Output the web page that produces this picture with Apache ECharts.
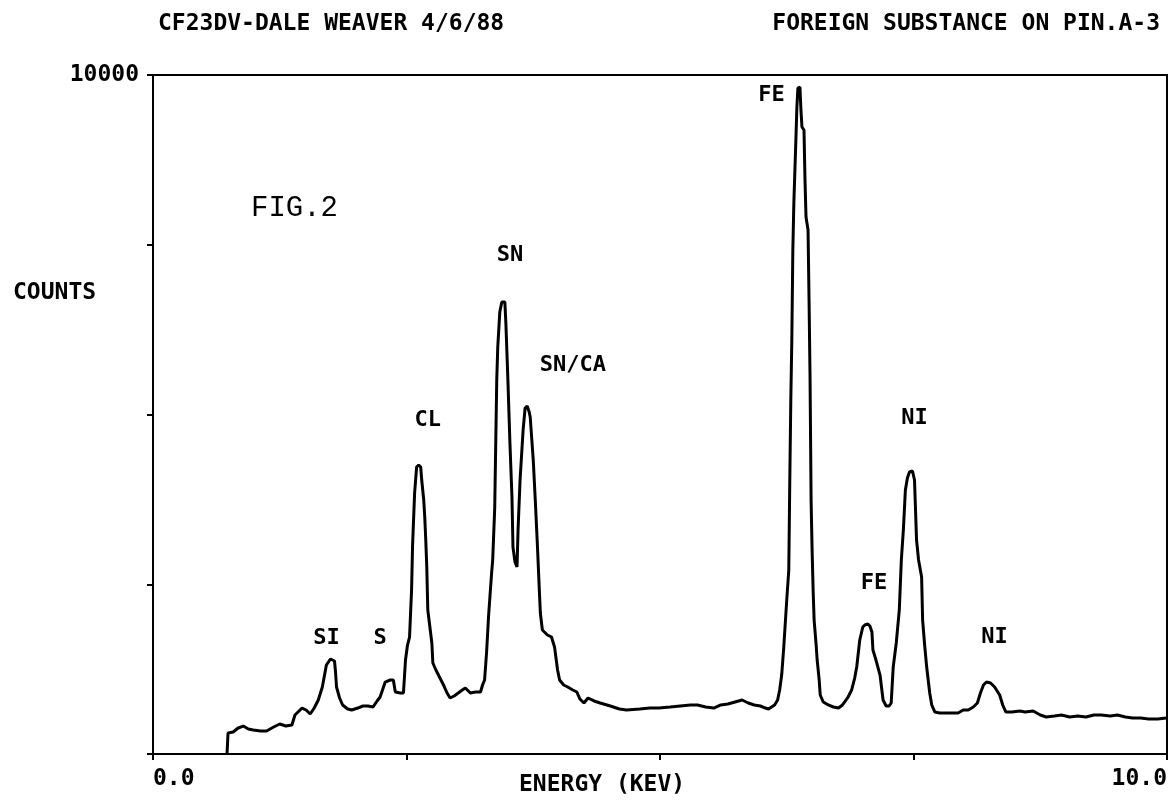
<!DOCTYPE html>
<html>
<head>
<meta charset="utf-8">
<title>EDS spectrum</title>
<script src="https://cdn.jsdelivr.net/npm/echarts@6/dist/echarts.min.js"></script>
<style>
  html, body { margin: 0; padding: 0; background: #fff; }
  #chart { width: 1171px; height: 801px; }
</style>
</head>
<body>
<div id="chart"></div>
<script>
// energy (keV) and counts
const energy = [
  0.73, 0.74, 0.79, 0.84, 0.89, 0.94, 0.99, 1.06, 1.12, 1.19, 1.25, 1.31, 1.37, 1.40, 1.47, 1.51, 1.55, 1.59, 1.63, 1.67,
  1.71, 1.75, 1.79, 1.80, 1.81, 1.84, 1.87, 1.92, 1.96, 2.02, 2.07, 2.12, 2.17, 2.21, 2.24, 2.29, 2.34, 2.37, 2.39, 2.44,
  2.47, 2.49, 2.51, 2.53, 2.55, 2.56, 2.58, 2.60, 2.62, 2.64, 2.65, 2.67, 2.68, 2.69, 2.70, 2.71, 2.75, 2.76, 2.79, 2.83,
  2.87, 2.90, 2.93, 2.97, 3.01, 3.05, 3.08, 3.13, 3.18, 3.23, 3.25, 3.27, 3.29, 3.31, 3.34, 3.35, 3.37, 3.39, 3.40, 3.42,
  3.44, 3.47, 3.48, 3.50, 3.52, 3.54, 3.55, 3.57, 3.59, 3.60, 3.62, 3.65, 3.67, 3.69, 3.71, 3.72, 3.75, 3.77, 3.79, 3.81,
  3.82, 3.84, 3.89, 3.93, 3.96, 3.99, 4.01, 4.05, 4.09, 4.14, 4.18, 4.21, 4.25, 4.29, 4.35, 4.41, 4.51, 4.60, 4.67, 4.80,
  4.90, 4.99, 5.10, 5.20, 5.30, 5.37, 5.45, 5.53, 5.60, 5.67, 5.74, 5.81, 5.87, 5.93, 5.99, 6.04, 6.07, 6.10, 6.13, 6.16,
  6.18, 6.20, 6.22, 6.25, 6.27, 6.28, 6.29, 6.30, 6.31, 6.32, 6.34, 6.35, 6.36, 6.38, 6.39, 6.40, 6.42, 6.43, 6.44, 6.46,
  6.47, 6.48, 6.49, 6.50, 6.51, 6.52, 6.54, 6.55, 6.57, 6.58, 6.61, 6.66, 6.71, 6.76, 6.80, 6.85, 6.89, 6.92, 6.94, 6.97,
  7.00, 7.02, 7.05, 7.07, 7.09, 7.10, 7.13, 7.17, 7.20, 7.23, 7.26, 7.28, 7.30, 7.33, 7.36, 7.38, 7.40, 7.42, 7.44, 7.46,
  7.49, 7.51, 7.52, 7.53, 7.55, 7.58, 7.59, 7.61, 7.63, 7.66, 7.68, 7.71, 7.76, 7.81, 7.89, 7.94, 7.99, 8.04, 8.09, 8.13,
  8.16, 8.19, 8.22, 8.26, 8.30, 8.35, 8.38, 8.41, 8.47, 8.55, 8.60, 8.68, 8.75, 8.81, 8.89, 8.96, 9.04, 9.12, 9.20, 9.28,
  9.35, 9.44, 9.51, 9.59, 9.66, 9.74, 9.82, 9.91, 9.99
]
const counts = [
  0, 309, 324, 383, 412, 368, 353, 339, 339, 398, 442, 412, 427, 574, 677, 648, 589, 677, 795, 987,
  1311, 1399, 1370, 1208, 987, 825, 722, 663, 648, 677, 707, 707, 692, 781, 839, 1060, 1090, 1090, 913, 898,
  898, 1384, 1605, 1723, 2415, 3078, 3844, 4227, 4256, 4227, 4035, 3741, 3490, 3152, 2754, 2121, 1635, 1340, 1237, 1119,
  1001, 898, 825, 854, 898, 943, 972, 898, 913, 913, 1016, 1090, 1502, 2047, 2680, 2857, 3623, 5508, 5994, 6509,
  6657, 6657, 6347, 5508, 4580, 3785, 3048, 2828, 2754, 3299, 4035, 4772, 5096, 5125, 5037, 4963, 4330, 3741, 3107, 2415,
  2077, 1826, 1753, 1723, 1576, 1237, 1090, 1016, 987, 943, 913, 810, 751, 825, 781, 751, 707, 663, 648, 663,
  677, 677, 692, 707, 722, 722, 692, 677, 722, 736, 766, 795, 751, 722, 707, 677, 663, 692, 722, 795,
  943, 1163, 1561, 2268, 2710, 4035, 5213, 6097, 7422, 8115, 9042, 9528, 9808, 9823, 9484, 9234, 9190, 8453, 7908, 7717,
  6686, 5508, 3741, 3004, 2415, 1973, 1605, 1384, 1090, 869, 766, 722, 692, 677, 722, 825, 943, 1119, 1281, 1679,
  1870, 1900, 1915, 1885, 1797, 1532, 1384, 1163, 795, 707, 707, 751, 1281, 1635, 2121, 2857, 3299, 3888, 4065, 4153,
  4168, 4035, 3593, 3152, 2857, 2607, 1973, 1605, 1281, 898, 722, 619, 604, 604, 604, 604, 648, 648, 692, 751,
  898, 1016, 1060, 1046, 987, 869, 722, 619, 619, 633, 619, 633, 574, 545, 560, 574, 545, 560, 545, 574,
  574, 560, 574, 545, 530, 530, 515, 515, 530
]

// peak labels: name, energy and count where the text sits
const peakNames = ['SI', 'S', 'CL', 'SN', 'SN/CA', 'FE', 'FE', 'NI', 'NI']
const peakEnergy = [1.71, 2.24, 2.71, 3.52, 4.14, 6.10, 7.11, 7.51, 8.30]
const peakCounts = [1710, 1710, 4920, 7340, 5720, 9700, 2520, 4940, 1720]

const xTicks = [0, 2.5, 5, 7.5, 10]
const yTicks = [0, 2500, 5000, 7500, 10000]

const chart = echarts.init(document.getElementById('chart'))

const font = 'DejaVu Sans Mono'
const textBold = { fontFamily: font, fontWeight: 'bold', fontSize: 23, color: '#000' }

const option = {
  backgroundColor: '#fff',
  animation: false,
  title: [
    { text: 'CF23DV-DALE WEAVER 4/6/88', left: 153, top: 8, textStyle: textBold },
    { text: 'FOREIGN SUBSTANCE ON PIN.A-3', right: 6, top: 8, textStyle: textBold },
    { text: 'COUNTS', left: 8, top: 277, textStyle: textBold },
    { text: 'ENERGY (KEV)', left: 514, top: 769, textStyle: textBold },
    { text: 'FIG.2', left: 246, top: 189, textStyle: { fontFamily: 'Liberation Mono', fontWeight: 'normal', fontSize: 29, color: '#000' } }
  ],
  grid: {
    left: 153, right: 4, top: 75, bottom: 47,
    show: true, borderColor: '#000', borderWidth: 2, backgroundColor: 'transparent'
  },
  xAxis: {
    type: 'value',
    min: xTicks[0], max: xTicks[xTicks.length - 1], interval: 2.5,
    axisLine: { lineStyle: { color: '#000', width: 2 } },
    axisTick: { inside: false, length: 6, lineStyle: { color: '#000', width: 2 } },
    splitLine: { show: false },
    axisLabel: {
      margin: 14,
      ...textBold,
      alignMinLabel: 'left',
      alignMaxLabel: 'right',
      formatter: v => (v === xTicks[0] || v === xTicks[xTicks.length - 1]) ? v.toFixed(1) : ''
    }
  },
  yAxis: {
    type: 'value',
    min: yTicks[0], max: yTicks[yTicks.length - 1], interval: 2500,
    axisLine: { show: true, lineStyle: { color: '#000', width: 2 } },
    axisTick: { show: true, inside: false, length: 6, lineStyle: { color: '#000', width: 2 } },
    splitLine: { show: false },
    axisLabel: {
      margin: 14,
      ...textBold,
      formatter: v => v === yTicks[yTicks.length - 1] ? String(v) : ''
    }
  },
  series: [
    {
      type: 'line',
      data: energy.map((e, i) => [e, counts[i]]),
      showSymbol: false,
      lineStyle: { color: '#000', width: 3 },
      silent: true
    },
    {
      type: 'scatter',
      data: peakNames.map((n, i) => [peakEnergy[i], peakCounts[i], n]),
      symbolSize: 1,
      itemStyle: { color: 'transparent', opacity: 1 },
      silent: true,
      label: {
        show: true,
        position: 'inside',
        ...textBold,
        fontSize: 22,
        opacity: 1,
        formatter: p => p.value[2]
      }
    }
  ]
}

chart.setOption(option)
window.addEventListener('resize', () => chart.resize())
</script>
</body>
</html>
